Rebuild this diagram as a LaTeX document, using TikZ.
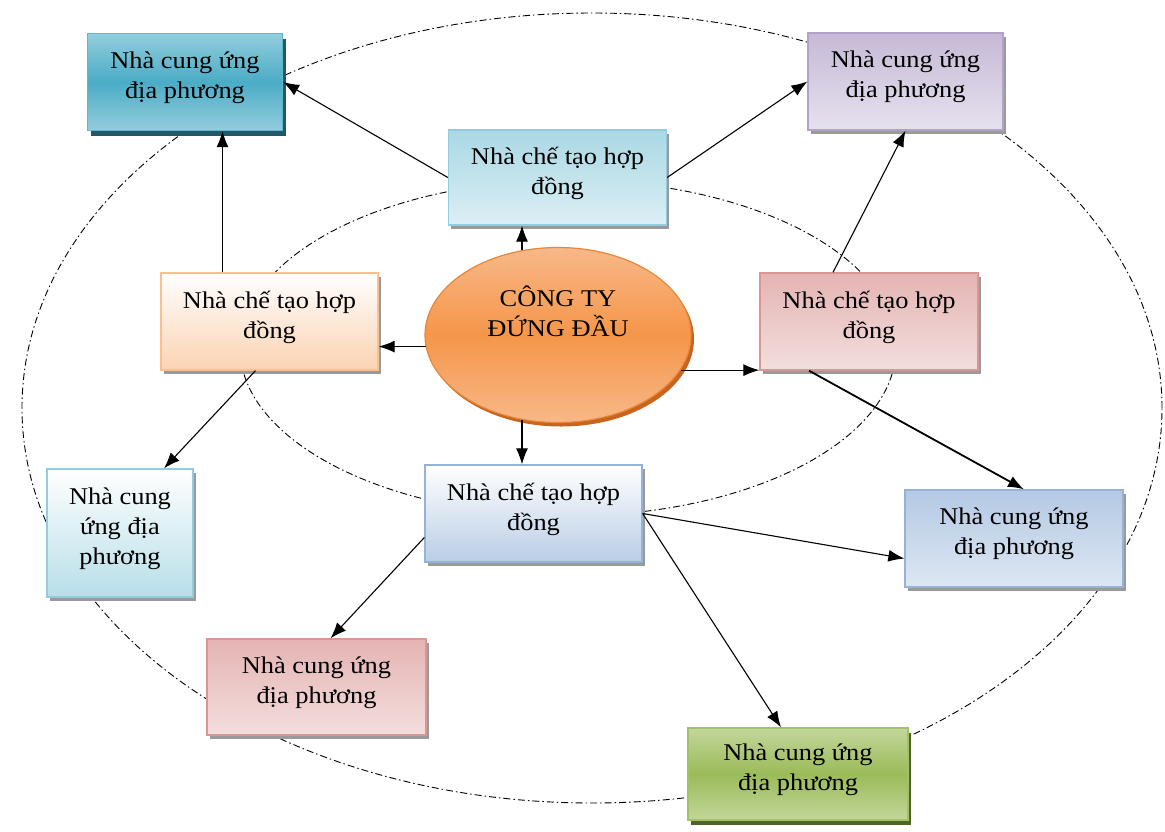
\documentclass[tikz,border=0pt]{standalone}
\usepackage{fontspec}
\setmainfont{Liberation Serif}[FakeStretch=1.1]
\usetikzlibrary{shadows,arrows.meta,shapes.geometric}
\definecolor{tlLight}{HTML}{93CDDD}
\definecolor{tlMid}{HTML}{4BACC6}
\definecolor{tlBorder}{HTML}{5DB7CE}
\definecolor{tlShadow}{HTML}{215968}
\definecolor{trTop}{HTML}{C6B9D6}
\definecolor{trBot}{HTML}{E6E1EE}
\definecolor{trBorder}{HTML}{B3A2C7}
\definecolor{tcTop}{HTML}{A9D8E5}
\definecolor{tcBot}{HTML}{DCEFF4}
\definecolor{cyBorder}{HTML}{93CDDD}
\definecolor{peBot}{HTML}{FBD3B2}
\definecolor{peBorder}{HTML}{FAC090}
\definecolor{pkTop}{HTML}{E4B4B3}
\definecolor{pkBot}{HTML}{F3DEDD}
\definecolor{pkBorder}{HTML}{D99694}
\definecolor{blBot}{HTML}{B9CDE5}
\definecolor{blBorder}{HTML}{95B3D7}
\definecolor{rbTop}{HTML}{B4C9E3}
\definecolor{rbBot}{HTML}{DDE7F3}
\definecolor{lpBot}{HTML}{B7DEE8}
\definecolor{grLight}{HTML}{C3D69B}
\definecolor{grMid}{HTML}{9BBB59}
\definecolor{grBorder}{HTML}{A2C266}
\definecolor{grShadow}{HTML}{4F6228}
\definecolor{orLight}{HTML}{F8B888}
\definecolor{orMid}{HTML}{F5964A}
\definecolor{orBorder}{HTML}{E8873A}
\definecolor{orShadow}{HTML}{C8641E}
\definecolor{shadowgrey}{HTML}{9A9A9A}
\begin{document}
\begin{tikzpicture}[x=1pt,y=-1pt,
  box/.style={rectangle, align=center, line width=1.3pt, inner sep=2pt,
    font=\fontsize{24}{30}\selectfont, text depth=14pt},
  greyshadow/.style={drop shadow={shadow xshift=2.5pt, shadow yshift=-4pt, fill=shadowgrey, opacity=1}},
  darkshadow/.style={drop shadow={shadow xshift=3pt, shadow yshift=-5pt, fill=#1, opacity=1}},
  arr/.style={line width=1.1pt, -{Latex[length=16pt,width=12pt]}},
  orbit/.style={line width=0.9pt, dash pattern=on 7pt off 3pt on 1.5pt off 3pt}
]
\useasboundingbox (0,0) rectangle (1165,831);

% orbits
\draw[orbit] (592,408) ellipse [x radius=570pt, y radius=395pt];
\draw[orbit] (568,348) ellipse [x radius=328pt, y radius=168pt];

% boxes
\node[box, darkshadow=tlShadow, top color=tlLight, bottom color=tlLight, middle color=tlMid, draw=tlBorder,
  minimum width=195pt, minimum height=97pt] (tl) at (185,82) {Nhà cung ứng\\địa phương};
\node[box, greyshadow, top color=trTop, bottom color=trBot, draw=trBorder,
  minimum width=195pt, minimum height=97pt] (tr) at (905.5,81.5) {Nhà cung ứng\\địa phương};
\node[box, greyshadow, top color=tcTop, bottom color=tcBot, draw=cyBorder,
  minimum width=218pt, minimum height=95pt] (tc) at (557.5,177.5) {Nhà chế tạo hợp\\đồng};
\node[box, greyshadow, top color=white, bottom color=peBot, draw=peBorder,
  minimum width=217pt, minimum height=97pt] (pe) at (269.5,321.5) {Nhà chế tạo hợp\\đồng};
\node[box, greyshadow, top color=pkTop, bottom color=pkBot, draw=pkBorder,
  minimum width=218pt, minimum height=97pt] (rp) at (869,321.5) {Nhà chế tạo hợp\\đồng};
\node[box, greyshadow, top color=white, bottom color=blBot, draw=blBorder,
  minimum width=217pt, minimum height=97pt] (bc) at (533.5,513.5) {Nhà chế tạo hợp\\đồng};
\node[box, greyshadow, top color=white, bottom color=lpBot, draw=cyBorder, text depth=13pt,
  minimum width=146pt, minimum height=128pt] (lp) at (120,533) {Nhà cung\\ứng địa\\phương};
\node[box, greyshadow, top color=rbTop, bottom color=rbBot, draw=blBorder,
  minimum width=218pt, minimum height=97pt] (rb) at (1014,538.5) {Nhà cung ứng\\địa phương};
\node[box, greyshadow, top color=pkTop, bottom color=pkBot, draw=pkBorder,
  minimum width=219pt, minimum height=96pt] (blp) at (316.5,687) {Nhà cung ứng\\địa phương};
\node[box, darkshadow=grShadow, top color=grLight, bottom color=grLight, middle color=grMid, draw=grBorder,
  minimum width=220pt, minimum height=92pt] (gr) at (798,774) {Nhà cung ứng\\địa phương};

% leading company
\node[ellipse, minimum width=266pt, minimum height=175pt, line width=1.2pt, draw=orBorder,
  top color=orLight, bottom color=orLight, middle color=orMid,
  drop shadow={shadow xshift=3pt, shadow yshift=-4pt, fill=orShadow, opacity=1}] (lead) at (558,335) {};
\node[align=center, font=\fontsize{24}{30}\selectfont] (leadtext) at (558,311) {CÔNG TY\\ĐỨNG ĐẦU};

% connectors
\draw[arr] (tc.west) -- (tl.east);
\draw[arr] (tc.east) -- (tr.west);
\draw[arr] ([xshift=-47pt]pe.north) -- ([xshift=-47pt]pe.north |- tl.south);
\draw[arr] (lead.113) -- (lead.113 |- tc.south);
\draw[arr] (lead.185) -- (lead.185 -| pe.east);
\draw[arr] (lead.344) -- (lead.344 -| rp.west);
\draw[arr] (lead.247) -- (lead.247 |- bc.north);
\draw[arr] ([xshift=-36pt]rp.north) -- (tr.south);
\draw[arr, line width=1.8pt] ([xshift=-60pt]rp.south) -- ([xshift=10pt]rb.north);
\draw[arr] ([xshift=-14pt]pe.south) -- ([xshift=44pt]lp.north);
\draw[arr] ([yshift=-24pt]bc.west) -- ([xshift=14pt]blp.north);
\draw[arr] (bc.east) -- ([yshift=-20pt]rb.west);
\draw[arr] (bc.east) -- ([xshift=-17pt]gr.north);
\end{tikzpicture}
\end{document}
